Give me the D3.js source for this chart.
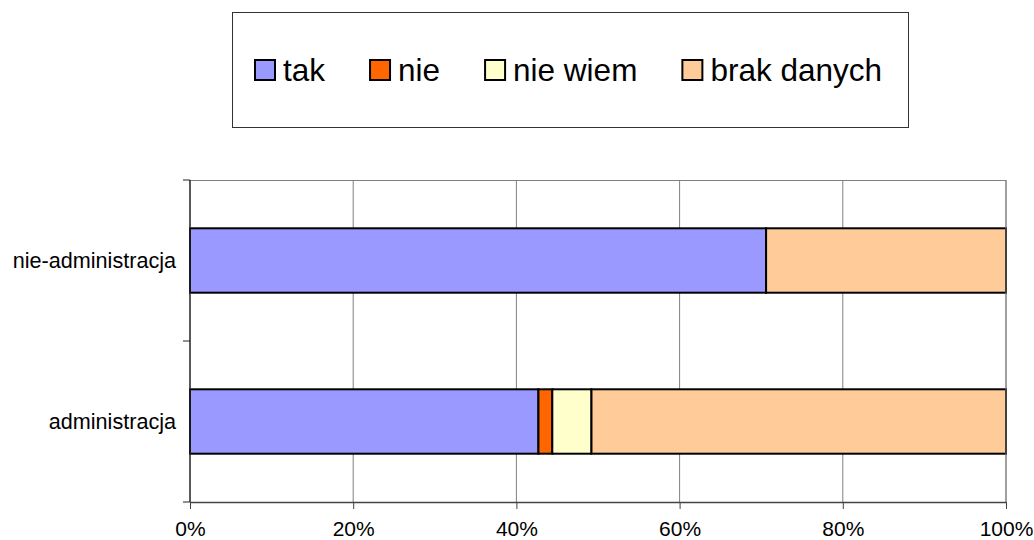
<!DOCTYPE html>
<html>
<head>
<meta charset="utf-8">
<script src="https://cdn.jsdelivr.net/npm/d3@7"></script>
<style>
  body { margin: 0; background: #fff; }
  text { font-family: "Liberation Sans", Arial, sans-serif; fill: #000; }
</style>
</head>
<body>
<div id="chart"></div>
<script>
// data (percent)
const categories = ["nie-administracja", "administracja"];
const seriesNames = ["tak", "nie", "nie wiem", "brak danych"];
const seriesColors = ["#9999FF", "#FF6600", "#FFFFCC", "#FFCC99"];
const tak = [70.6, 42.7];
const nie = [0, 1.7];
const nieWiem = [0, 4.8];
const brakDanych = [29.4, 50.8];
const xTicks = [0, 20, 40, 60, 80, 100];

const W = 1034, H = 540;
const margin = { top: 180, right: 28, bottom: 38, left: 190 };
const width = W - margin.left - margin.right;
const height = H - margin.top - margin.bottom;

const svg = d3.select("#chart").append("svg")
  .attr("width", W)
  .attr("height", H);

// build rows for the stack
const rows = categories.map((c, i) => ({
  cat: c,
  "tak": tak[i],
  "nie": nie[i],
  "nie wiem": nieWiem[i],
  "brak danych": brakDanych[i]
}));
const stacked = d3.stack().keys(seriesNames)(rows);

const x = d3.scaleLinear().domain([0, 100]).range([0, width]);
const y = d3.scaleBand().domain(categories).range([0, height])
  .paddingInner(0.6).paddingOuter(0.3);
const color = d3.scaleOrdinal().domain(seriesNames).range(seriesColors);

const g = svg.append("g")
  .attr("transform", "translate(" + margin.left + "," + margin.top + ")");

// gridlines
g.append("g")
  .selectAll("line")
  .data(xTicks.slice(1))
  .join("line")
  .attr("x1", d => x(d)).attr("x2", d => x(d))
  .attr("y1", 0).attr("y2", height)
  .attr("stroke", "#808080")
  .attr("stroke-width", 1);

// top border
g.append("line")
  .attr("x1", 0).attr("x2", width)
  .attr("y1", 0.5).attr("y2", 0.5)
  .attr("stroke", "#808080");

// bars
g.append("g")
  .selectAll("g")
  .data(stacked)
  .join("g")
  .attr("fill", d => color(d.key))
  .selectAll("rect")
  .data(d => d.filter(s => s[1] - s[0] > 0))
  .join("rect")
  .attr("x", d => x(d[0]))
  .attr("y", d => y(d.data.cat))
  .attr("width", d => x(d[1]) - x(d[0]))
  .attr("height", y.bandwidth())
  .attr("stroke", "#000")
  .attr("stroke-width", 2);

// bottom axis
const xAxis = g.append("g")
  .attr("transform", "translate(0," + height + ")")
  .call(d3.axisBottom(x).tickValues(xTicks).tickFormat(d => d + "%")
    .tickSizeInner(7).tickSizeOuter(0).tickPadding(12));
xAxis.select(".domain").attr("stroke", "#444").attr("stroke-width", 1.5);
xAxis.selectAll(".tick line").attr("stroke", "#444");
xAxis.selectAll("text")
  .style("font-family", "Liberation Sans, Arial, sans-serif")
  .style("font-size", "21px");

// left axis with ticks at category boundaries
const yAxis = g.append("g");
yAxis.append("line")
  .attr("x1", 0).attr("x2", 0).attr("y1", 0).attr("y2", height)
  .attr("stroke", "#222").attr("stroke-width", 1.5);
yAxis.selectAll(".bound")
  .data([0, 1, 2])
  .join("line")
  .attr("class", "bound")
  .attr("x1", -7).attr("x2", 0)
  .attr("y1", d => d * y.step()).attr("y2", d => d * y.step())
  .attr("stroke", "#222");
yAxis.selectAll(".lab")
  .data(categories)
  .join("text")
  .attr("class", "lab")
  .attr("x", -14)
  .attr("y", d => y(d) + y.bandwidth() / 2)
  .attr("dy", "0.35em")
  .attr("text-anchor", "end")
  .style("font-size", "21.6px")
  .text(d => d);

// right border
g.append("line")
  .attr("x1", width).attr("x2", width).attr("y1", 0).attr("y2", height)
  .attr("stroke", "#808080");

// legend
const legend = svg.append("g");
legend.append("rect")
  .attr("x", 232.5).attr("y", 12.5)
  .attr("width", 676).attr("height", 115)
  .attr("fill", "#fff")
  .attr("stroke", "#333")
  .attr("stroke-width", 1);

let lx = 255;
seriesNames.forEach((name, i) => {
  const item = legend.append("g");
  item.append("rect")
    .attr("x", lx).attr("y", 60)
    .attr("width", 20).attr("height", 20)
    .attr("fill", seriesColors[i])
    .attr("stroke", "#000")
    .attr("stroke-width", 2);
  const t = item.append("text")
    .attr("x", lx + 28).attr("y", 81)
    .style("font-size", "31.5px")
    .text(name);
  lx += 28 + t.node().getComputedTextLength() + 45;
});
</script>
</body>
</html>
